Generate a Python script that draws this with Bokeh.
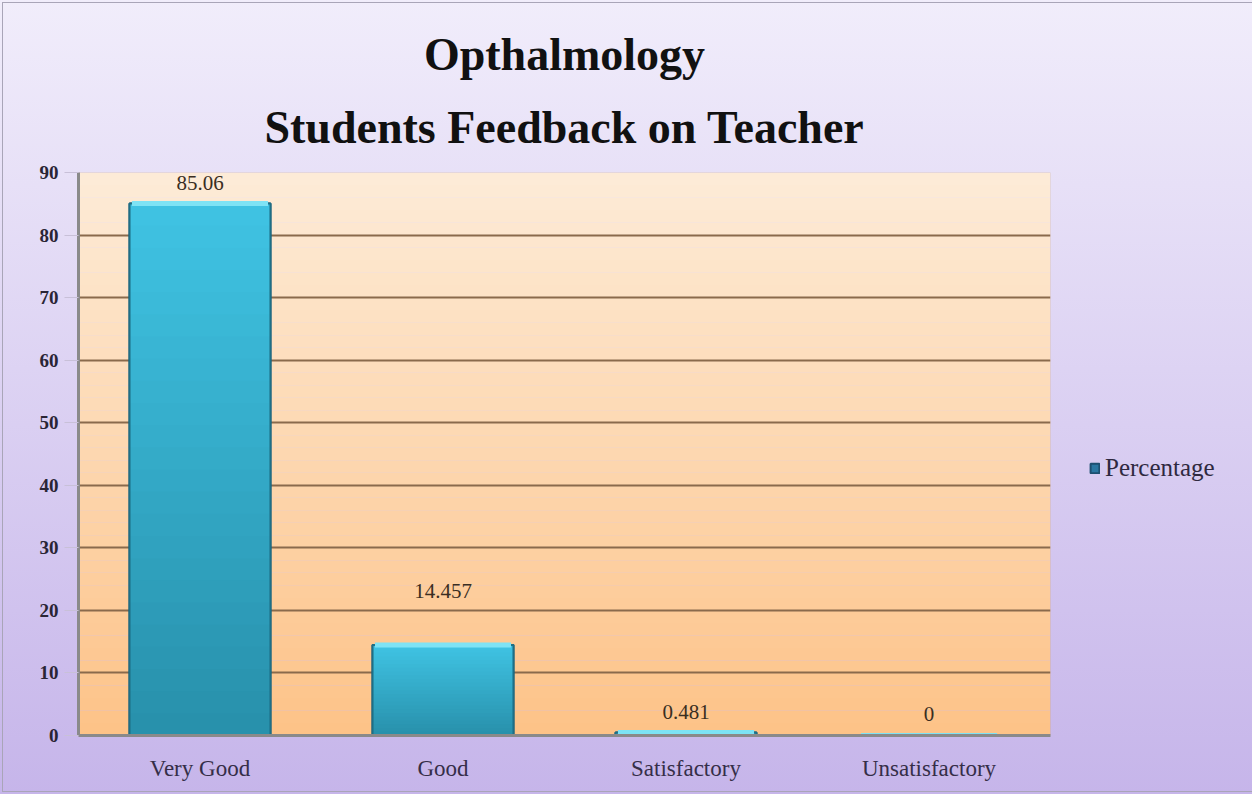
from bokeh.plotting import figure
from bokeh.models import (Range1d, FactorRange, Title, BoxAnnotation, Legend, LegendItem,
                          ColumnDataSource, FixedTicker)
from bokeh.core.properties import value
from bokeh.embed import file_html
from bokeh.resources import INLINE
import numpy as np

# ---- data ----
categories = ["Very Good", "Good", "Satisfactory", "Unsatisfactory"]
percentages = [85.06, 14.457, 0.481, 0]
series_name = "Percentage"
y_ticks = [0, 10, 20, 30, 40, 50, 60, 70, 80, 90]
title_lines = ["Opthalmology", "Students Feedback on Teacher"]

# ---- style ----
label_offsets = [-20, -54, -20, -22]
SERIF = value("Liberation Serif")

p = figure(frame_width=972, frame_height=563, x_range=FactorRange(*categories, range_padding=0),
           y_range=Range1d(0, 90), output_backend="svg", toolbar_location=None,
           min_border_left=78, min_border_right=202, min_border_bottom=59, min_border_top=10)
p.title = None
p.border_fill_color = None
p.background_fill_color = None
p.styles = {"background": "linear-gradient(#f1edfb, #c6b5ea)",
            "outline": "1px solid #a9a5b8", "outline-offset": "-3px"}
p.outline_line_color = None

t2 = Title(text=title_lines[1], align="center", text_font="Liberation Serif",
           text_font_size="46px", text_font_style="bold", text_color="#111111",
           standoff=40, text_line_height=1.0)
t1 = Title(text=title_lines[0], align="center", text_font="Liberation Serif",
           text_font_size="46px", text_font_style="bold", text_color="#111111",
           standoff=0, text_line_height=1.0)
spacer = Title(text=" ", align="center", text_font_size="12px", standoff=10)
p.add_layout(t2, "above")
p.add_layout(t1, "above")
p.add_layout(spacer, "above")

# plot-area vertical gradient (decoration)
top_c = np.array([0xfd, 0xec, 0xd8])
bot_c = np.array([0xfd, 0xc3, 0x88])
nb = 45
edges = np.linspace(0, 90, nb + 1)
for i in range(nb):
    f = (i + 0.5) / nb
    c = (bot_c + (top_c - bot_c) * f).astype(int)
    p.add_layout(BoxAnnotation(bottom=edges[i], top=edges[i + 1], fill_color="#%02x%02x%02x" % tuple(c),
                               fill_alpha=1, line_alpha=0, level="image"))

vals = np.array(percentages, dtype=float)
src = ColumnDataSource(dict(cat=categories, val=percentages,
                            lab=[str(v) for v in percentages], off=label_offsets))

# base bars (also the legend glyph)
bars = p.vbar(x="cat", top="val", width=0.58, source=src, fill_color="#2a76a0",
              line_color="#1d4f70", line_width=2)

bar_bot = np.array([0x28, 0x90, 0xab])
bar_top = np.array([0x40, 0xc4, 0xe4])
ns = 24
for k in range(ns):
    f = (k + 0.5) / ns
    c = (bar_bot + (bar_top - bar_bot) * f).astype(int)
    p.vbar(x=categories, bottom=vals * k / ns, top=np.minimum(vals * (k + 1.6) / ns, vals), width=0.58,
           fill_color="#%02x%02x%02x" % tuple(c), line_alpha=0)

p.vbar(x="cat", top="val", width=0.58, source=src, fill_alpha=0,
       line_color="#1d6f86", line_width=2)
p.vbar(x="cat", top="val", bottom="val", width=0.56, source=src, line_color="#7ee3f5", line_width=5)

p.text(x="cat", y="val", text="lab", y_offset="off", source=src, text_align="center",
       text_baseline="middle", text_font=SERIF, text_font_size="21px", text_color="#3a2e22")

p.xgrid.grid_line_color = None
p.ygrid.grid_line_color = "#8a6a4c"
p.ygrid.grid_line_width = 2
p.ygrid.ticker = FixedTicker(ticks=y_ticks)
p.yaxis.ticker = FixedTicker(ticks=y_ticks)

for ax in (p.xaxis[0], p.yaxis[0]):
    ax.axis_line_color = "#8a8a8a"
    ax.axis_line_width = 3
    ax.major_label_text_font = "Liberation Serif"
    ax.minor_tick_line_color = None

p.yaxis.major_tick_out = 14
p.yaxis.major_tick_in = 0
p.yaxis.major_tick_line_color = "#c8c0d8"
p.yaxis.major_label_text_font_size = "19px"
p.yaxis.major_label_text_font_style = "bold"
p.yaxis.major_label_text_color = "#2a2535"
p.yaxis.major_label_standoff = 6

p.xaxis.major_tick_line_color = None
p.xaxis.major_label_text_font_size = "23px"
p.xaxis.major_label_text_color = "#352e48"
p.xaxis.major_label_standoff = 14

legend = Legend(items=[LegendItem(label=series_name, renderers=[bars])], location=(39, 253),
                label_text_font="Liberation Serif", label_text_font_size="25px",
                label_text_color="#2f2940", background_fill_alpha=0, border_line_alpha=0,
                glyph_width=11, glyph_height=12, label_standoff=5, margin=0, padding=0)
p.add_layout(legend, "right")

p.add_layout(BoxAnnotation(fill_alpha=0, line_color="#b09070", line_width=1, level="underlay"))

open("out.html", "w").write(file_html(p, INLINE))
